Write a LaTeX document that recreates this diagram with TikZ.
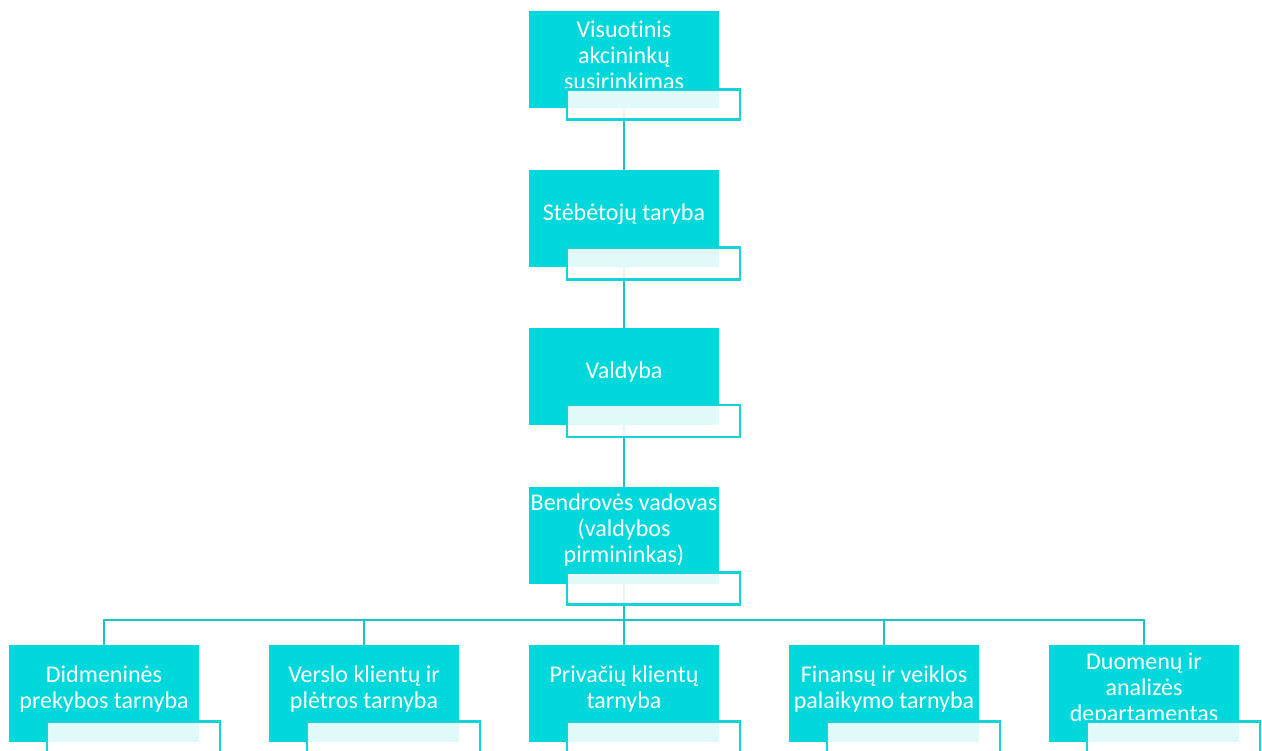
\documentclass[tikz,border=0pt]{standalone}
\usepackage{fontspec}
\setmainfont{Carlito}[Ligatures={NoCommon}]
\definecolor{boxteal}{RGB}{0,216,220}
\definecolor{lineteal}{RGB}{22,198,200}
\definecolor{subteal}{RGB}{20,212,215}
\tikzset{
  mainbox/.style={rectangle, fill=boxteal, draw=none, minimum width=190pt, minimum height=97pt, inner sep=0pt, outer sep=0pt},
  subbox/.style={rectangle, fill=white, fill opacity=0.88, draw=subteal, draw opacity=1, line width=2.6pt, minimum width=173pt, minimum height=32pt, inner sep=0pt, outer sep=0pt},
  boxtext/.style={text=white, align=center, inner sep=0pt, font=\fontsize{24}{26}\selectfont},
  conn/.style={draw=lineteal, line width=2.5pt}
}
\begin{document}
\begin{tikzpicture}[x=1pt,y=-1pt]
\clip (0,0) rectangle (1262,751);
\fill[white] (0,0) rectangle (1262,751);
% main boxes
\node[mainbox] (b1) at (624,60) {};
\node[mainbox] (b2) at (624,218.5) {};
\node[mainbox] (b3) at (624,376.5) {};
\node[mainbox] (b4) at (624,535) {};
\node[mainbox] (c1) at (104,693.5) {};
\node[mainbox] (c2) at (364,693.5) {};
\node[mainbox] (c3) at (624,693.5) {};
\node[mainbox] (c4) at (884,693.5) {};
\node[mainbox] (c5) at (1144,693.5) {};
% connectors
\coordinate (bus) at (624,620);
\draw[conn] (b1.south) -- (b2.north);
\draw[conn] (b2.south) -- (b3.north);
\draw[conn] (b3.south) -- (b4.north);
\draw[conn] (b4.south) -- (bus);
\foreach \c in {c1,c2,c3,c4,c5}{\draw[conn] (bus) -| (\c.north);}
% texts
\node[boxtext] (t1) at ([yshift=4.5pt]b1.center) {Visuotinis\\akcininkų\\susirinkimas};
\node[boxtext] (t2) at ([yshift=4.5pt]b2.center) {Stėbėtojų taryba};
\node[boxtext] (t3) at ([yshift=4.5pt]b3.center) {Valdyba};
\node[boxtext] (t4) at ([yshift=4.5pt]b4.center) {Bendrovės vadovas\\(valdybos\\pirmininkas)};
\node[boxtext] (u1) at ([yshift=4.5pt]c1.center) {Didmeninės\\prekybos tarnyba};
\node[boxtext] (u2) at ([yshift=4.5pt]c2.center) {Verslo klientų ir\\plėtros tarnyba};
\node[boxtext] (u3) at ([yshift=4.5pt]c3.center) {Privačių klientų\\tarnyba};
\node[boxtext] (u4) at ([yshift=4.5pt]c4.center) {Finansų ir veiklos\\palaikymo tarnyba};
\node[boxtext] (u5) at ([yshift=4.5pt]c5.center) {Duomenų ir\\analizės\\departamentas};
% sub boxes
\node[subbox, minimum height=30pt] (sb1) at ([xshift=29.5pt,yshift=3.8pt]b1.south) {};
\node[subbox] (sb2) at ([xshift=29.5pt,yshift=3.5pt]b2.south) {};
\node[subbox] (sb3) at ([xshift=29.5pt,yshift=4pt]b3.south) {};
\node[subbox] (sb4) at ([xshift=29.5pt,yshift=-4.9pt]b4.south) {};
\foreach \b in {c1,c2,c3,c4,c5}{
  \node[subbox] (s\b) at ([xshift=29.5pt,yshift=4.7pt]\b.south) {};
}
\end{tikzpicture}
\end{document}
